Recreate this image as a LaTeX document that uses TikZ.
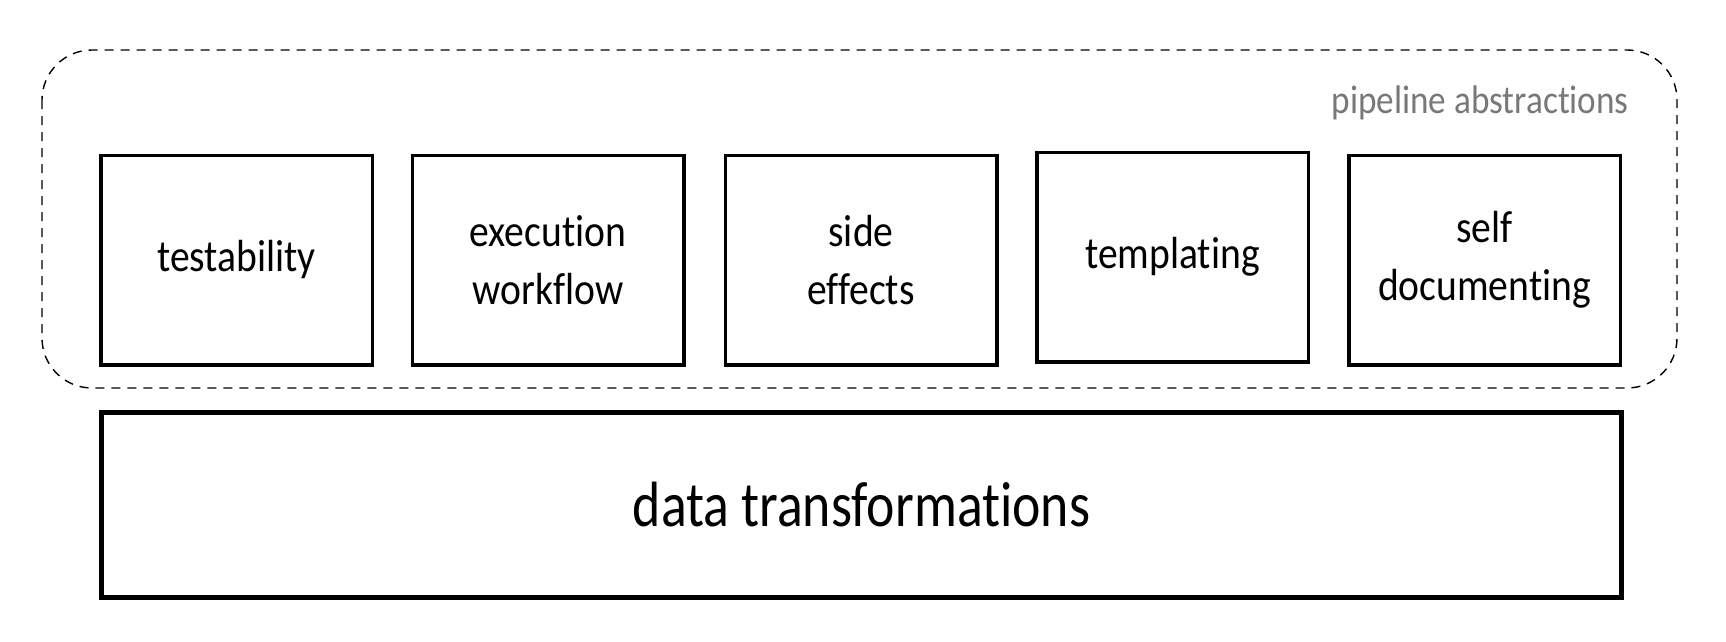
\documentclass[tikz,border=0pt]{standalone}
\usepackage{fontspec}
\setmainfont[FakeStretch=0.88, Ligatures={NoCommon,NoRare,NoContextual}]{Carlito}
\newfontfamily\datafont[FakeStretch=0.84, Ligatures={NoCommon,NoRare,NoContextual}]{Carlito}
\definecolor{labelgrey}{RGB}{120,120,120}
\tikzset{
  absbox/.style={draw, line width=3.5, minimum width=271.5, minimum height=209.5, align=center, inner sep=0,
    font={\fontsize{45}{58}\selectfont}},
  databox/.style={draw, line width=5, minimum width=1520, minimum height=185, inner sep=0,
    font={\datafont\fontsize{64}{70}\selectfont}},
}
\begin{document}
\begin{tikzpicture}[x=1pt,y=1pt,yscale=-1,xscale=1]
\useasboundingbox (0,0) rectangle (1726,642);

%Dashed frame round the abstractions
\draw [line width=1.4, dash pattern=on 9 off 7, rounded corners=50] (42,50) rectangle (1677,388);
% Text Node
\node (lbl) [anchor=base east, text=labelgrey, font={\fontsize{40}{44}\selectfont}, inner sep=0] at (1629,113) {pipeline abstractions};

%Abstraction boxes
\node (test) [absbox] at (236.5,260) {testability};
\node (exec) [absbox] at (548,260) {execution\\workflow};
\node (side) [absbox] at (861,260) {side\\effects};
\node (tmpl) [absbox] at (1172.5,257) {templating};
\node (self) [absbox] at (1484.5,260) {self\\documenting};

%Base box
\node (data) [databox] at (861.5,505) {data transformations};
\end{tikzpicture}
\end{document}
